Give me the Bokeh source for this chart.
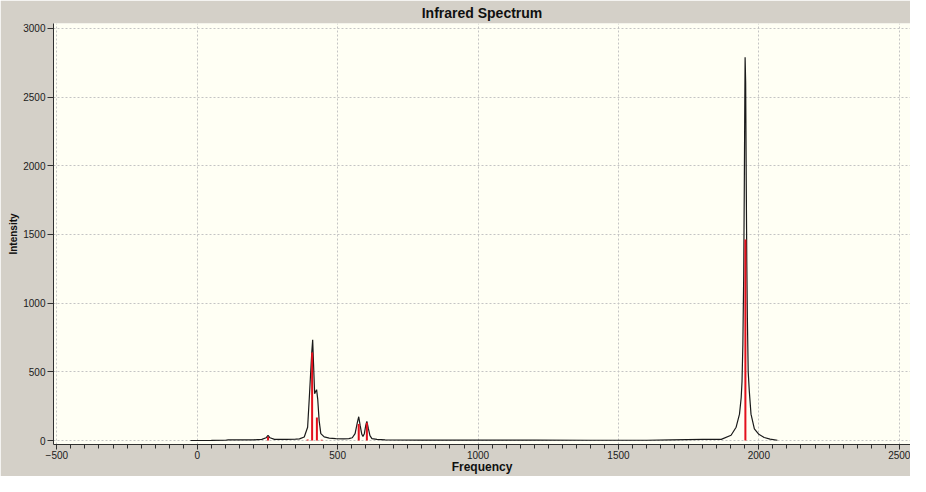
from bokeh.plotting import figure
from bokeh.models import Range1d, FixedTicker
from bokeh.embed import file_html
from bokeh.resources import INLINE

# Broadened IR spectrum (frequency, intensity)
curve_freq = [-24, 50, 100, 110, 200, 230, 245, 252, 259, 275, 317, 350, 364, 381,
              393, 399, 404, 408, 411, 414, 418, 421, 425, 429, 434, 440, 452, 470,
              493, 520, 540, 552, 562, 570, 575, 580, 586, 590, 595, 600, 604, 609,
              615, 622, 640, 669, 800, 1000, 1200, 1400, 1600, 1690, 1800, 1866,
              1901, 1919, 1931, 1937, 1940, 1943, 1946, 1948, 1950, 1951, 1953, 1955,
              1957, 1959, 1962, 1966, 1972, 1984, 2000, 2019, 2040, 2066]
curve_int = [0, 1, 2, 4, 5, 8, 20, 38, 20, 8, 9, 10, 12, 26,
             97, 311, 500, 650, 734, 560, 340, 355, 370, 300, 145, 50, 26, 18,
             14, 12, 14, 20, 50, 130, 173, 110, 45, 30, 50, 110, 140, 90,
             35, 14, 8, 4, 3, 3, 3, 2, 2, 5, 8, 8,
             38, 97, 192, 311, 430, 700, 1200, 1800, 2500, 2790, 2600, 1900,
             1300, 900, 501, 358, 192, 85, 45, 22, 10, 2]

# Computed normal modes (stick spectrum)
stick_freq = [252, 393, 409, 426, 443, 575, 604, 1952]
stick_int = [28, 8, 640, 168, 6, 120, 130, 1463]

x_ticks = [-500, 0, 500, 1000, 1500, 2000, 2500]
x_minor = list(range(-500, 2501, 50))
y_ticks = [0, 500, 1000, 1500, 2000, 2500, 3000]

p = figure(width=910, height=476, output_backend="svg", toolbar_location=None,
           x_range=Range1d(-512, 2540), y_range=Range1d(-29, 3036),
           min_border_left=53, min_border_right=0, min_border_top=0,
           min_border_bottom=0,
           background_fill_color="#fffff4", border_fill_color="#d4d0c8")
p.outline_line_color = None

p.title.text = "Infrared Spectrum"
p.title.align = "center"
p.title.text_font = "Liberation Sans"
p.title.text_font_size = "14px"
p.title.text_font_style = "bold"
p.title.text_color = "#101010"
p.title.standoff = 5

for ax in (p.xaxis[0], p.yaxis[0]):
    ax.axis_line_color = "#303030"
    ax.major_tick_line_color = "#303030"
    ax.minor_tick_line_color = "#303030"
    ax.major_tick_in = 0
    ax.minor_tick_in = 0
    ax.major_label_text_font = "Liberation Sans"
    ax.major_label_text_font_size = "10px"
    ax.major_label_text_color = "#202020"
    ax.axis_label_text_font = "Liberation Sans"
    ax.axis_label_text_font_style = "bold"
    ax.axis_label_text_color = "#101010"

p.xaxis.ticker = FixedTicker(ticks=x_ticks, minor_ticks=x_minor)
p.xaxis.major_tick_out = 5
p.xaxis.minor_tick_out = 4
p.xaxis.major_label_standoff = 1
p.xaxis.axis_label = "Frequency"
p.xaxis.axis_label_text_font_size = "12px"
p.xaxis.axis_label_standoff = -2

p.yaxis.ticker = FixedTicker(ticks=y_ticks, minor_ticks=[])
p.yaxis.major_tick_out = 6
p.yaxis.minor_tick_out = 0
p.yaxis.major_label_standoff = 2
p.yaxis.axis_label = "Intensity"
p.yaxis.axis_label_text_font_size = "10px"
p.yaxis.axis_label_standoff = 1

p.xgrid.ticker = FixedTicker(ticks=x_ticks)
p.ygrid.ticker = FixedTicker(ticks=y_ticks)
p.grid.grid_line_color = "#c4c4c4"
p.grid.grid_line_dash = "2 2"
p.grid.grid_line_width = 1

p.line(curve_freq, curve_int, line_color="#1a1a1a", line_width=1.2)
p.segment(x0=stick_freq, y0=[0] * len(stick_freq), x1=stick_freq, y1=stick_int,
          line_color="#e3101c", line_width=2)

open("out.html", "w").write(file_html(p, INLINE))
